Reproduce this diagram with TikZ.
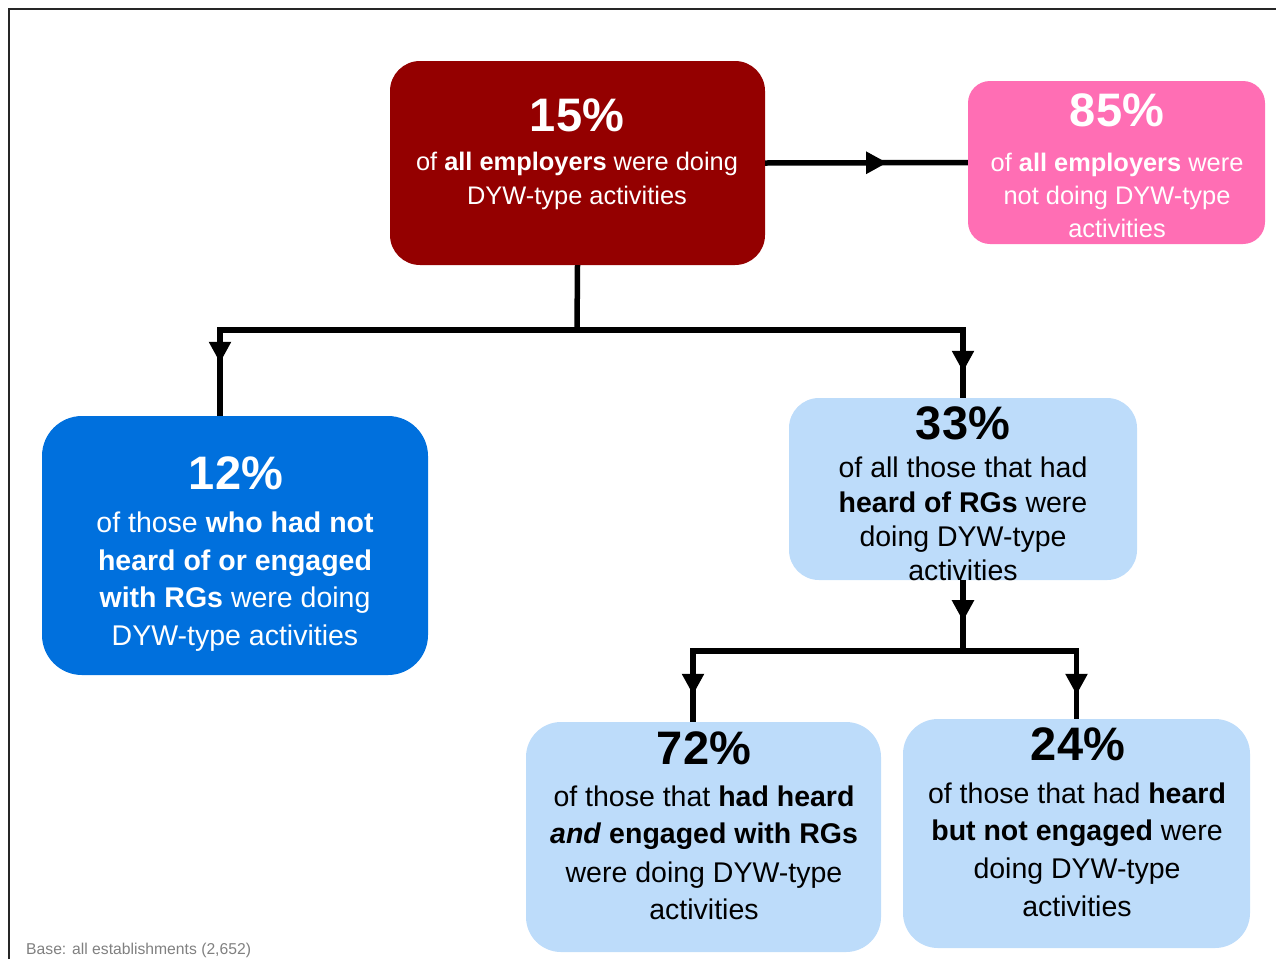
\documentclass[tikz,border=0pt]{standalone}
\usepackage{fontspec}
\setmainfont{Liberation Sans}
\usetikzlibrary{arrows.meta,decorations.markings}
\definecolor{darkred}{RGB}{148,0,0}
\definecolor{pinkbox}{RGB}{255,110,180}
\definecolor{bluebox}{RGB}{0,112,221}
\definecolor{lightbox}{RGB}{189,220,250}
\definecolor{basegray}{RGB}{128,128,128}
\tikzset{
  box/.style={rectangle, inner sep=0pt, draw=none},
  conn/.style={line width=5.5pt, black},
  midarr/.style={postaction={decorate},
    decoration={markings, mark=at position #1 with {\arrow{Triangle[length=21pt,width=21pt]}}}},
  ln/.style={anchor=base, inner sep=0pt},
  pct/.style={ln, font=\fontsize{47}{47}\selectfont\bfseries},
  smalltxt/.style={ln, font=\fontsize{25.4}{30}\selectfont},
  bigtxt/.style={ln, font=\fontsize{28.5}{34}\selectfont}
}
\begin{document}
\begin{tikzpicture}[x=1pt,y=-1pt]
\useasboundingbox (0,0) rectangle (1276,959);
% frame
\draw[line width=2pt, black!85] (9,959) -- (9,9) -- (1276,9);
% boxes
\node[box, fill=darkred, rounded corners=30pt, minimum width=375pt, minimum height=204pt] (A) at (577.5,163) {};
\node[box, fill=pinkbox, rounded corners=22pt, minimum width=297pt, minimum height=163pt] (B) at (1116.5,162.5) {};
\node[box, fill=bluebox, rounded corners=40pt, minimum width=386pt, minimum height=259pt] (C) at (235,545.5) {};
\node[box, fill=lightbox, rounded corners=30pt, minimum width=348pt, minimum height=182pt] (D) at (963,489) {};
\node[box, fill=lightbox, rounded corners=35pt, minimum width=355pt, minimum height=230pt] (E) at (703.5,837) {};
\node[box, fill=lightbox, rounded corners=35pt, minimum width=347pt, minimum height=229pt] (F) at (1076.5,833.5) {};
% connectors
\coordinate (jA) at (577,330);
\coordinate (jD) at (963,651);
\draw[conn, midarr=122pt] (A.east) -- (B.west);
\draw[conn] (A.south) -- (jA);
\draw[conn, midarr=-53pt] (jA) -| ([xshift=-15pt]C.north);
\draw[conn, midarr=-26pt] (jA) -| (D.north);
\draw[conn, midarr=41pt] (D.south) -- (jD);
\draw[conn, midarr=-27pt] (jD) -| ([xshift=-10.5pt]E.north);
\draw[conn, midarr=-24pt] (jD) -| (F.north);
% texts A
\node[pct, white] (a0) at (577,131) {15\%};
\node[smalltxt, white] (a1) at (577,170) {of \textbf{all employers} were doing};
\node[smalltxt, white] (a2) at (577,204) {DYW-type activities};
% texts B
\node[pct, white] (b0) at (1117,126) {85\%};
\node[smalltxt, white] (b1) at (1117,171) {of \textbf{all employers} were};
\node[smalltxt, white] (b2) at (1117,204) {not doing DYW-type};
\node[smalltxt, white] (b3) at (1117,237) {activities};
% texts C
\node[pct, white] (c0) at (236,489) {12\%};
\node[bigtxt, white] (c1) at (235,532) {of those \textbf{who had not}};
\node[bigtxt, white] (c2) at (235,570) {\textbf{heard of or engaged}};
\node[bigtxt, white] (c3) at (235,607) {\textbf{with RGs} were doing};
\node[bigtxt, white] (c4) at (235,645) {DYW-type activities};
% texts D
\node[pct] (d0) at (963,439) {33\%};
\node[bigtxt] (d1) at (963,477) {of all those that had};
\node[bigtxt] (d2) at (963,512) {\textbf{heard of RGs} were};
\node[bigtxt] (d3) at (963,546) {doing DYW-type};
\node[bigtxt] (d4) at (963,580) {activities};
% texts E
\node[pct] (e0) at (704,764) {72\%};
\node[bigtxt] (e1) at (704,806) {of those that \textbf{had heard}};
\node[bigtxt] (e2) at (704,843) {\textbf{\textit{and} engaged with RGs}};
\node[bigtxt] (e3) at (704,882) {were doing DYW-type};
\node[bigtxt] (e4) at (704,919) {activities};
% texts F
\node[pct] (f0) at (1078,760) {24\%};
\node[bigtxt] (f1) at (1077,803) {of those that had \textbf{heard}};
\node[bigtxt] (f2) at (1077,840) {\textbf{but not engaged} were};
\node[bigtxt] (f3) at (1077,878) {doing DYW-type};
\node[bigtxt] (f4) at (1077,916) {activities};
% base note
\node[anchor=base west, inner sep=0pt, basegray, font=\fontsize{15.7}{18}\selectfont] (base) at (26,954) {Base: all establishments (2,652)};
\end{tikzpicture}
\end{document}
